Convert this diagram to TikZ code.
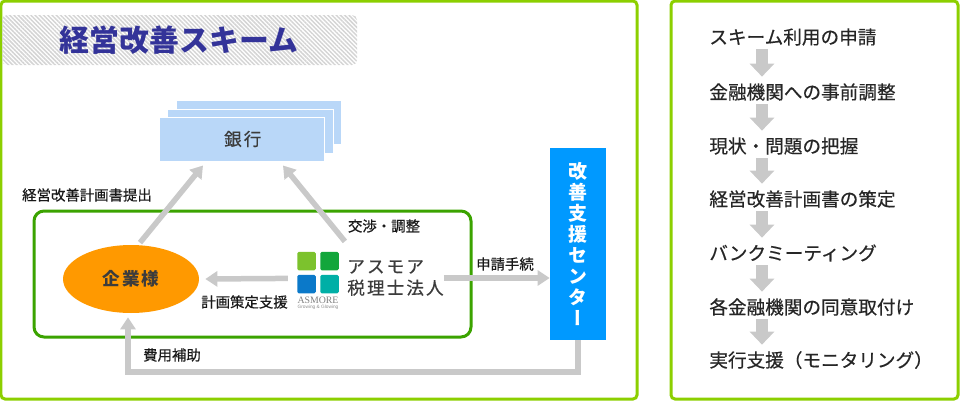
\documentclass[tikz,border=0pt]{standalone}
\usepackage{fontspec}
\newfontfamily\cjk[FakeBold=0.5]{Noto Sans CJK JP}
\newfontfamily\cjkheavy{Noto Sans CJK JP}
\newfontfamily\cjkspaced[LetterSpace=12,FakeBold=0.6]{Noto Sans CJK JP}
\newfontfamily\cjkspacedheavy[LetterSpace=12]{Noto Sans CJK JP}
\newfontfamily\cjkvert[RawFeature=+vert]{Noto Sans CJK JP}
\newfontfamily\logoserif{Liberation Serif}
\newfontfamily\logosans{Liberation Sans}
\usetikzlibrary{arrows.meta,patterns.meta,shapes.geometric}
\definecolor{framelime}{HTML}{8CCF00}
\definecolor{framegreen}{HTML}{3BA300}
\definecolor{arrowgray}{HTML}{C9C9C9}
\definecolor{bankblue}{HTML}{B9D7F8}
\definecolor{centerblue}{HTML}{0099FF}
\definecolor{ovalorange}{HTML}{FF9900}
\definecolor{titleblue}{HTML}{333399}
\definecolor{darktext}{HTML}{3C3C3C}
\definecolor{tilelime}{HTML}{7CC22D}
\definecolor{tilegreen}{HTML}{12A63B}
\definecolor{tileblue}{HTML}{0B79C9}
\definecolor{tileteal}{HTML}{00AFA6}
\tikzset{
  outerframe/.style={draw=framelime,line width=0.06cm,rounded corners=0.08cm},
  innerframe/.style={draw=framegreen,line width=0.06cm,rounded corners=0.2cm},
  bankcard/.style={draw=white,line width=0.02cm,fill=bankblue},
  smallarrow/.style={draw=arrowgray,line width=0.11cm,-{Triangle[width=0.3cm,length=0.24cm]}},
  listarrow/.style={draw=arrowgray,line width=0.24cm,-{Triangle[width=0.48cm,length=0.26cm]}},
  smalllabel/.style={inner sep=0pt,font=\cjk\fontsize{8.2}{10}\selectfont,text=black!90},
  listlabel/.style={inner sep=0pt,anchor=west,minimum height=0.4cm,font=\cjk\fontsize{10.6}{12}\selectfont,text=black!85},
  logotile/.style={inner sep=0pt,minimum size=0.37cm,rounded corners=0.03cm},
}
\begin{document}
\begin{tikzpicture}[x=0.02cm,y=-0.02cm]
  \useasboundingbox (0,0) rectangle (960,400);

  % Drawing the two outer frames
  \draw [outerframe] (1,1) rectangle (637,399);%
  \draw [outerframe] (671,1) rectangle (958,399);%

  % Title bar
  \path [rounded corners=0.1cm,fill=black!4,pattern={Lines[angle=135,distance=0.06cm,line width=0.03cm]},pattern color=black!17] (2,15) rectangle (357,65);%
  \node (title) at (179,40) [inner sep=0pt,font=\cjkheavy\bfseries\fontsize{17}{20}\selectfont,text=titleblue] { 経営改善スキーム };%

  % Drawing the stack of bank cards
  \node (bankback) at (259,122.5) [bankcard,inner sep=0pt,minimum width=3.32cm,minimum height=0.88cm] {};%
  \node (bankmid) at (250.5,131) [bankcard,inner sep=0pt,minimum width=3.34cm,minimum height=0.88cm] {};%
  \node (bank) at (242,139) [bankcard,inner sep=0pt,minimum width=3.32cm,minimum height=0.88cm,font=\cjkspaced\fontsize{10}{12}\selectfont,text=darktext] { \hspace{0.03cm}銀行 };%

  % Drawing the client group frame
  \draw [innerframe] (34,211) rectangle (471,337);%

  % Client oval
  \node (client) at (131,279) [ellipse,fill=ovalorange,inner sep=0pt,minimum width=2.72cm,minimum height=1.36cm,font=\cjkspacedheavy\bfseries\fontsize{10}{12}\selectfont,text=darktext] { 企業様 };%

  % Logo tiles
  \node (tilea) at (306.5,261) [logotile,fill=tilelime] {};%
  \node (tileb) at (329.5,261) [logotile,fill=tilegreen] {};%
  \node (tilec) at (306.5,284) [logotile,fill=tileblue] {};%
  \node (tiled) at (329.5,284) [logotile,fill=tileteal] {};%
  \node (logoname) at (318,300.5) [inner sep=0pt,font=\logoserif\fontsize{5.6}{6}\selectfont,text=black!50] { ASMORE };%
  \node (logosub) at (318,307.5) [inner sep=0pt,font=\logosans\fontsize{2.7}{3}\selectfont,text=black!45] { Growing \& Glowing };%

  % Firm name
  \node (firm) at (347,278) [anchor=west,inner sep=0pt,align=left,font=\cjkspaced\fontsize{10}{12.2}\selectfont,text=darktext] { アスモア\\税理士法人 };%

  % Support center box
  \node (center) at (578,244) [inner sep=0pt,fill=centerblue,minimum width=1.12cm,minimum height=3.84cm,align=center,font=\cjkvert\bfseries\fontsize{10.8}{11.9}\selectfont,text=white] { 改\\善\\支\\援\\セ\\ン\\タ\\ー };%

  % Drawing the arrows of the scheme
  \draw [smallarrow] ([shift={(9,-2)}]client.north) -- ([shift={(-39,4)}]bank.south);%
  \draw [smallarrow] ([shift={(48,-10)}]tilea.north west) -- ([shift={(41,4)}]bank.south);%
  \draw [smallarrow] ([shift={(-9,4)}]tilec.north west) -- ([shift={(6,0)}]client.east);%
  \draw [smallarrow] (firm.east) -- (center.west |- firm.east);%
  \draw [smallarrow] (center.south) |- (128,372) -- ([shift={(-3,4)}]client.south);%

  % Arrow labels
  \node (lbsubmit) at (87,195) [smalllabel] { 経営改善計画書提出 };%
  \node (lbnego) at (384,226) [smalllabel] { 交渉・調整 };%
  \node (lbapply) at (505,264) [smalllabel] { 申請手続 };%
  \node (lbplan) at (244.5,302) [smalllabel] { 計画策定支援 };%
  \node (lbcost) at (172,355) [smalllabel] { 費用補助 };%

  % Steps of the right column
  \node (stepa) at (709,37) [listlabel] { スキーム利用の申請 };%
  \node (stepb) at (709,92) [listlabel] { 金融機関への事前調整 };%
  \node (stepc) at (709,146) [listlabel] { 現状・問題の把握 };%
  \node (stepd) at (709,199) [listlabel] { 経営改善計画書の策定 };%
  \node (stepe) at (709,253) [listlabel] { バンクミーティング };%
  \node (stepf) at (709,307) [listlabel] { 各金融機関の同意取付け };%
  \node (stepg) at (709,360) [listlabel] { 実行支援（モニタリング） };%

  % Drawing the arrows between steps
  \draw [listarrow] ([shift={(53,2)}]stepa.south west) -- ([shift={(53,-5)}]stepb.north west);%
  \draw [listarrow] ([shift={(53,2)}]stepb.south west) -- ([shift={(53,-5)}]stepc.north west);%
  \draw [listarrow] ([shift={(53,2)}]stepc.south west) -- ([shift={(53,-5)}]stepd.north west);%
  \draw [listarrow] ([shift={(53,2)}]stepd.south west) -- ([shift={(53,-5)}]stepe.north west);%
  \draw [listarrow] ([shift={(53,2)}]stepe.south west) -- ([shift={(53,-5)}]stepf.north west);%
  \draw [listarrow] ([shift={(53,2)}]stepf.south west) -- ([shift={(53,-5)}]stepg.north west);%
\end{tikzpicture}
\end{document}
